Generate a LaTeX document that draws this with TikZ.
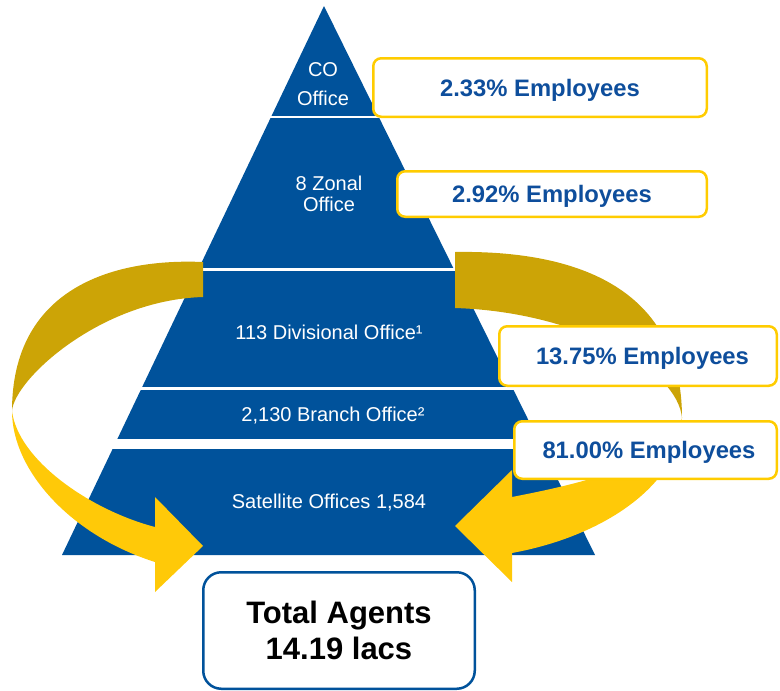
\documentclass[tikz,border=0pt]{standalone}
\usepackage{fontspec}
\setmainfont{Liberation Sans}
\definecolor{pyrblue}{RGB}{0,82,155}
\definecolor{ribgold}{RGB}{204,164,6}
\definecolor{ribyellow}{RGB}{255,201,8}
\definecolor{boxyellow}{RGB}{255,204,0}
\definecolor{textblue}{RGB}{14,78,156}
\begin{document}
\begin{tikzpicture}[x=1pt,y=-1pt,
  lbl/.style={text=white,inner sep=0pt,align=center},
  empbox/.style={draw=boxyellow,line width=2.5pt,fill=white,rounded corners=8pt,
    text=textblue,font=\fontsize{23.8}{28}\selectfont\bfseries,
    text height=17pt,text depth=0pt,inner sep=0pt},
  totbox/.style={draw=pyrblue,line width=2.5pt,fill=white,rounded corners=18pt,
    text=black,font=\fontsize{31}{36.7}\selectfont\bfseries,align=center,inner sep=0pt}]
\useasboundingbox (0,0) rectangle (780,691);
% pyramid
\fill[pyrblue] (324,6) -- (595,555) -- (62,555) -- cycle;
\fill[white] (60,115.5) rectangle (600,118);
\fill[white] (60,268) rectangle (600,270.5);
\fill[white] (60,387) rectangle (600,390);
\fill[white] (60,439) rectangle (600,449);
% level labels
\node[lbl,font=\fontsize{20}{29}\selectfont] (co) at (323,84.5) {CO\\Office};
\node[lbl,font=\fontsize{20}{21}\selectfont] (zonal) at (329,194) {8 Zonal\\Office};
\node[lbl,anchor=base,font=\fontsize{20}{24}\selectfont] (div) at (329,339) {113 Divisional Office¹};
\node[lbl,anchor=base,font=\fontsize{20}{24}\selectfont] (branch) at (333,421) {2,130 Branch Office²};
\node[lbl,anchor=base,font=\fontsize{20}{24}\selectfont] (sat) at (329,508) {Satellite Offices 1,584};
% left ribbon arrow
\fill[ribgold] (203,262) .. controls (110,258) and (12,290) .. (12,411)
  .. controls (14,380) and (100,300) .. (203,297) -- cycle;
\fill[ribyellow] (12,411) .. controls (12,470) and (70,535) .. (155,562)
  -- (155,592) -- (203,546) -- (155,497) -- (155,527)
  .. controls (90,510) and (18,460) .. (12,411) -- cycle;
% right ribbon arrow
\fill[ribgold] (455,252) .. controls (580,250) and (682,290) .. (682,418)
  .. controls (678,370) and (580,312) .. (455,308) -- cycle;
\fill[ribyellow] (682,418) .. controls (682,480) and (610,535) .. (512,553)
  -- (512,582) -- (455,526) -- (512,470) -- (512,497)
  .. controls (600,480) and (670,460) .. (682,418) -- cycle;
% employee boxes
\node[empbox,minimum width=333.5pt,minimum height=58.5pt] (e1) at (540,87.5) {2.33\% Employees};
\node[empbox,minimum width=309.5pt,minimum height=45.5pt] (e2) at (552,194) {2.92\% Employees};
\node[empbox,minimum width=277.5pt,minimum height=59.5pt] (e3) at (638,356) {\hspace*{9pt}13.75\% Employees};
\node[empbox,minimum width=262.5pt,minimum height=57.5pt] (e4) at (645.5,450) {\hspace*{7pt}81.00\% Employees};
% total agents
\node[totbox,minimum width=271.5pt,minimum height=116.5pt] (tot) at (339,630.5) {Total Agents\\14.19 lacs};
\end{tikzpicture}
\end{document}
